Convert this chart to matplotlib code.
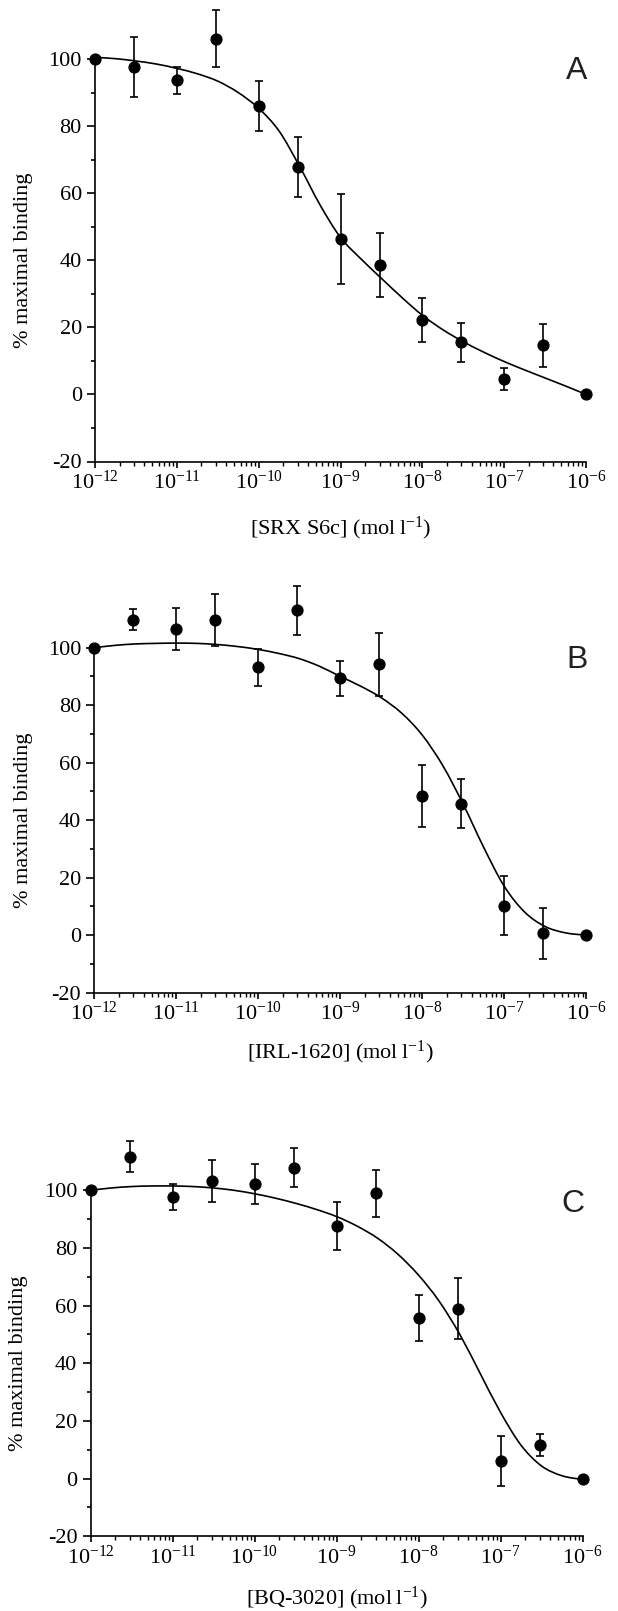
import numpy as np
import matplotlib
matplotlib.use('Agg')
import matplotlib.pyplot as plt
from matplotlib.path import Path
from matplotlib.patches import PathPatch

plt.rcParams['font.family'] = ['Liberation Serif', 'DejaVu Serif']
plt.rcParams['mathtext.fontset'] = 'custom'
plt.rcParams['mathtext.rm'] = 'Liberation Serif'
plt.rcParams['mathtext.it'] = 'Liberation Serif:italic'
plt.rcParams['mathtext.bf'] = 'Liberation Serif:bold'
plt.rcParams['axes.unicode_minus'] = False

# ---------------- data ----------------
conc = [1e-12, 3e-12, 1e-11, 3e-11, 1e-10, 3e-10, 1e-9, 3e-9, 1e-8, 3e-8, 1e-7, 3e-7, 1e-6]

a_vals = [100.0, 97.7, 93.7, 106.0, 86.0, 67.8, 46.4, 38.6, 22.2, 15.5, 4.6, 14.7, 0.0]
a_err = [0.0, 9.0, 4.0, 8.5, 7.5, 8.8, 13.4, 9.5, 6.6, 5.8, 3.3, 6.4, 0.0]

b_vals = [100.0, 109.7, 106.5, 109.7, 93.2, 113.0, 89.4, 94.2, 48.4, 45.8, 10.2, 0.6, 0.0]
b_err = [0.0, 3.7, 7.2, 9.0, 6.5, 8.6, 6.1, 10.9, 10.9, 8.5, 10.3, 8.8, 0.0]

c_vals = [100.0, 111.7, 97.8, 103.2, 102.1, 107.9, 87.6, 98.9, 55.7, 59.0, 6.0, 11.7, 0.0]
c_err = [0.0, 5.3, 4.5, 7.2, 7.0, 6.7, 8.3, 8.3, 7.9, 10.6, 8.7, 3.8, 0.0]

# fitted curves (log10 concentration -> % binding)
curve_logx = [-12.0, -11.75, -11.5, -11.25, -11.0, -10.75, -10.5, -10.25, -10.0,
              -9.75, -9.5, -9.25, -9.0, -8.75, -8.5, -8.25, -8.0, -7.75, -7.5,
              -7.25, -7.0, -6.75, -6.5, -6.25, -6.0]
a_curve = [100.5, 100.1, 99.4, 98.5, 97.2, 95.6, 93.4, 90.0, 85.3,
           78.5, 68.0, 56.5, 46.8, 40.4, 34.6, 28.9, 23.6, 19.3, 15.7,
           12.6, 9.8, 7.3, 4.9, 2.5, 0.0]
b_curve = [100.0, 100.8, 101.3, 101.5, 101.6, 101.5, 101.1, 100.4, 99.4,
           98.0, 96.2, 93.5, 90.0, 86.6, 82.6, 77.2, 69.6, 59.0, 45.5,
           30.5, 17.0, 8.0, 3.0, 0.8, 0.0]
c_curve = [100.0, 100.8, 101.3, 101.5, 101.5, 101.3, 100.8, 100.0, 98.8,
           97.3, 95.5, 93.4, 90.9, 87.6, 83.4, 77.8, 70.6, 61.6, 50.2,
           36.6, 23.0, 11.6, 4.4, 1.0, -0.3]

x_ticks = [1e-12, 1e-11, 1e-10, 1e-9, 1e-8, 1e-7, 1e-6]
x_tick_labels = ['10$^{-12}$', '10$^{-11}$', '10$^{-10}$', '10$^{-9}$',
                 '10$^{-8}$', '10$^{-7}$', '10$^{-6}$']
y_ticks = [-20, 0, 20, 40, 60, 80, 100]
y_minor = [-10, 10, 30, 50, 70, 90]

x_labels = ['[SRX S6c] (mol\u2009l$^{-1}$)', '[IRL-1620] (mol\u2009l$^{-1}$)',
            '[BQ-3020] (mol\u2009l$^{-1}$)']
panel_letters = ['A', 'B', 'C']
y_label = '% maximal binding'


def smooth_path(lx, ly):
    """Smooth (Catmull-Rom) line through the read points, in log-x space."""
    lx = np.asarray(lx, float)
    ly = np.asarray(ly, float)
    n = len(lx)
    verts = [(10 ** lx[0], ly[0])]
    codes = [Path.MOVETO]
    for i in range(n - 1):
        i0 = max(i - 1, 0)
        i3 = min(i + 2, n - 1)
        c1x = lx[i] + (lx[i + 1] - lx[i0]) / 6.0
        c1y = ly[i] + (ly[i + 1] - ly[i0]) / 6.0
        c2x = lx[i + 1] - (lx[i3] - lx[i]) / 6.0
        c2y = ly[i + 1] - (ly[i3] - ly[i]) / 6.0
        verts += [(10 ** c1x, c1y), (10 ** c2x, c2y), (10 ** lx[i + 1], ly[i + 1])]
        codes += [Path.CURVE4, Path.CURVE4, Path.CURVE4]
    return Path(verts, codes)


# ---------------- layout (pixels) ----------------
W, H = 618, 1611
fig = plt.figure(figsize=(W / 100, H / 100), dpi=100)

panels = [
    dict(vals=a_vals, err=a_err, curve=a_curve, left=95, right=586, y_m20=461.5, y_100=59,
         ymax=117, xlab_y=528, ylab_x=24, letter=(577, 71)),
    dict(vals=b_vals, err=b_err, curve=b_curve, left=94.2, right=586.3, y_m20=992.7, y_100=647.7,
         ymax=124, xlab_y=1052, ylab_x=24, letter=(577, 660)),
    dict(vals=c_vals, err=c_err, curve=c_curve, left=90.5, right=582.5, y_m20=1536.3, y_100=1190.3,
         ymax=120, xlab_y=1598, ylab_x=19, letter=(573, 1204)),
]

for i, p in enumerate(panels):
    ppu = (p['y_m20'] - p['y_100']) / 120.0
    top = p['y_m20'] - (p['ymax'] + 20) * ppu
    bottom = p['y_m20']
    ax = fig.add_axes([p['left'] / W, 1 - bottom / H, (p['right'] - p['left']) / W, (bottom - top) / H])
    ax.set_xscale('log')
    ax.set_xlim(1e-12, 1e-6)
    ax.set_ylim(-20, p['ymax'])

    patch = PathPatch(smooth_path(curve_logx, p['curve']), facecolor='none', edgecolor='black',
                      lw=1.2, clip_on=False, zorder=2)
    ax.add_patch(patch)

    ex = [c for c, e in zip(conc, p['err']) if e > 0]
    ey = [v for v, e in zip(p['vals'], p['err']) if e > 0]
    ee = [e for e in p['err'] if e > 0]
    ax.errorbar(ex, ey, yerr=ee, fmt='none', ecolor='black', elinewidth=1.2,
                capsize=3, capthick=1.2, clip_on=False, zorder=3)
    ax.plot(conc, p['vals'], 'o', color='black', ms=7.8, clip_on=False, zorder=4)

    for s in ['top', 'right']:
        ax.spines[s].set_visible(False)
    for s in ['left', 'bottom']:
        ax.spines[s].set_linewidth(1.2)
    ax.spines['left'].set_bounds(-20, 100)

    ax.set_yticks(y_ticks)
    ax.set_yticklabels([str(t) for t in y_ticks])
    ax.set_yticks(y_minor, minor=True)
    ax.set_xticks(x_ticks)
    ax.set_xticklabels(x_tick_labels)
    ax.xaxis.set_minor_locator(matplotlib.ticker.LogLocator(base=10, subs=[2, 3, 4, 5, 6, 7, 8, 9], numticks=100))
    ax.xaxis.set_minor_formatter(matplotlib.ticker.NullFormatter())

    ax.tick_params(axis='y', which='major', direction='out', length=5.5, width=1.2, labelsize=16, pad=4)
    ax.tick_params(axis='y', which='minor', direction='out', length=3.2, width=1.2)
    ax.tick_params(axis='x', which='major', direction='out', length=4.5, width=1.2, labelsize=16, pad=2)
    ax.tick_params(axis='x', which='minor', direction='out', length=2.8, width=1.0)
    ax.patch.set_visible(False)

    xc = (p['left'] + p['right']) / 2
    fig.text(xc / W, 1 - p['xlab_y'] / H, x_labels[i], ha='center', va='center', fontsize=16)
    yc = (p['y_m20'] + p['y_100']) / 2
    fig.text(p['ylab_x'] / W, 1 - yc / H, y_label, ha='center', va='center', rotation=90, fontsize=16)
    lx, ly = p['letter']
    fig.text(lx / W, 1 - ly / H, panel_letters[i], ha='center', va='center', fontsize=23,
             family=['Liberation Sans', 'DejaVu Sans'], color='#231f20')

fig.savefig('out.png', dpi=100)
